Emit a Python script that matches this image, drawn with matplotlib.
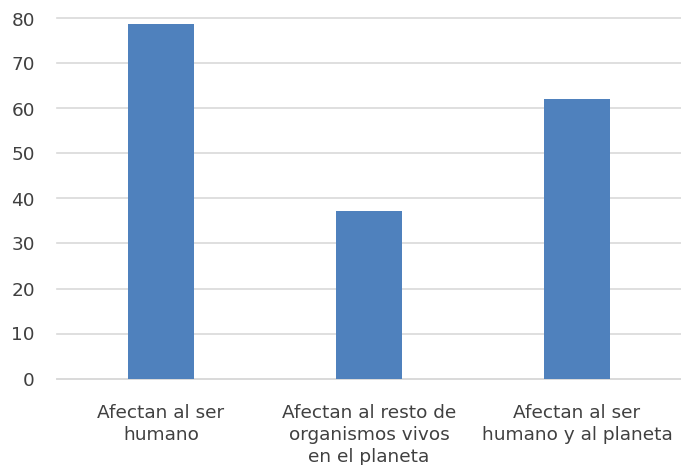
import matplotlib
matplotlib.use("Agg")
import matplotlib.pyplot as plt

categories = ["Afectan al ser\nhumano",
              "Afectan al resto de\norganismos vivos\nen el planeta",
              "Afectan al ser\nhumano y al planeta"]
values = [78.8, 37.3, 62.1]
yticks = [0, 10, 20, 30, 40, 50, 60, 70, 80]

plt.rcParams["font.family"] = ["DejaVu Sans"]

fig = plt.figure(figsize=(6.81, 4.65), dpi=100)
ax = fig.add_axes([57 / 681, 1 - 378.5 / 465, 1 - 57 / 681, 360 / 465])

x = list(range(len(categories)))
ax.bar(x, values, width=0.32, color="#4F81BD", zorder=3)

ax.set_xlim(-0.5, len(categories) - 0.5)
ax.set_ylim(0, 80)
ax.set_yticks(yticks)
ax.set_xticks(x)
ax.set_xticklabels(categories, linespacing=1.32)

ax.grid(axis="y", color="#D9D9D9", linewidth=1.2, zorder=0)
for gl in ax.get_ygridlines():
    gl.set_clip_on(False)
for s in ["top", "right", "left"]:
    ax.spines[s].set_visible(False)
ax.spines["bottom"].set_color("#D9D9D9")
ax.spines["bottom"].set_linewidth(1.2)

ax.tick_params(axis="x", length=0, pad=18, labelsize=13.3, labelcolor="#404040")
ax.tick_params(axis="y", length=0, pad=16, labelsize=13.3, labelcolor="#404040")

fig.savefig("out.png", dpi=100)
